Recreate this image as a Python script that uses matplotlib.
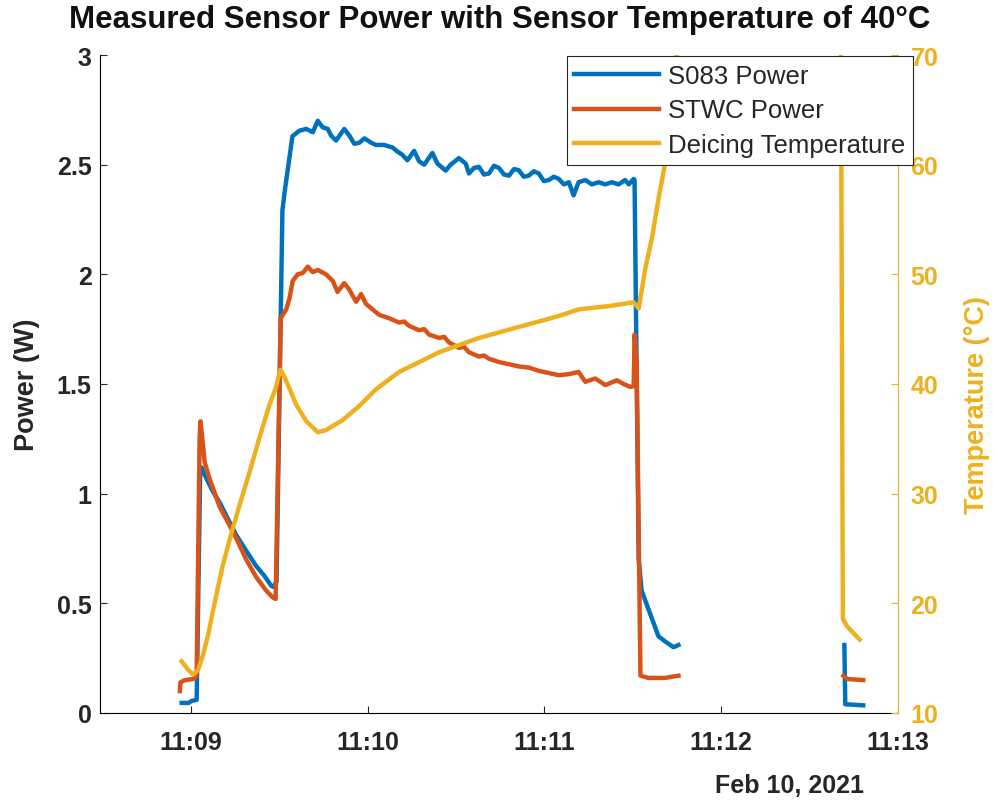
import numpy as np
import matplotlib
matplotlib.use('Agg')
import matplotlib.pyplot as plt
import matplotlib.dates as mdates

plt.rcParams['font.family'] = ['Liberation Sans', 'DejaVu Sans']

# ---- data (time = seconds after 11:09:00, Feb 10 2021) ----
s083_t = [-3.1, -0.7, 0.3, 2.0, 3.2, 3.6, 5.3, 7.5, 9.8, 12.6, 15.5, 18.8, 22.2, 25.0, 27.3, 28.1,
          29.1, 31.1, 31.8, 34.5, 36.9, 39.2, 41.4, 43.1, 44.8, 46.5, 47.6, 49.3, 52.1, 53.8, 55.5,
          57.2, 58.9, 61.2, 62.8, 65.6, 68.5, 70.1, 71.8, 73.5, 75.8, 77.5, 79.2, 82.0, 83.7, 86.5,
          88.2, 91.0, 93.3, 94.4, 96.1, 97.8, 99.5, 101.2, 102.9, 104.6, 106.3, 108.0, 109.7, 111.3,
          113.0, 114.7, 116.4, 118.1, 119.8, 121.5, 123.2, 124.9, 126.6,
          128.3, 129.9, 131.6, 133.9, 136.1, 138.4, 140.6, 142.9, 145.2, 147.4, 148.6, 150.3,
          150.6, 152.0, 153.0, 155.3, 158.7, 160.9, 163.8, 165.5,
          190.0,
          221.8, 222.1, 228.2]
s083_p = [0.046, 0.046, 0.055, 0.06, 1.10, 1.12, 1.07, 1.01, 0.96, 0.885, 0.81, 0.74, 0.67, 0.625, 0.58, 0.575,
          0.60, 2.29, 2.37, 2.63, 2.655, 2.663, 2.648, 2.70, 2.67, 2.663, 2.633, 2.61, 2.663, 2.633, 2.595,
          2.60, 2.62, 2.60, 2.59, 2.59, 2.578, 2.56, 2.545, 2.52, 2.563, 2.515, 2.50, 2.553, 2.505, 2.473,
          2.50, 2.53, 2.505, 2.46, 2.485, 2.49, 2.455, 2.46, 2.495, 2.485, 2.455, 2.45, 2.48, 2.475,
          2.445, 2.45, 2.47, 2.46, 2.425, 2.43, 2.445, 2.435, 2.41,
          2.42, 2.36, 2.42, 2.43, 2.41, 2.42, 2.41, 2.42, 2.41, 2.43, 2.41, 2.435,
          2.43, 0.70, 0.558, 0.474, 0.35, 0.327, 0.30, 0.31,
          np.nan,
          0.31, 0.04, 0.035]

stwc_t = [-3.7, -3.5, -2.0, 0.8, 2.0, 3.0, 3.3, 3.7, 4.7, 6.4, 9.8, 13.2, 15.5, 18.8, 22.2, 25.6, 27.8,
          28.8, 30.5, 32.4, 33.5, 34.6, 36.3, 38.0, 39.7, 41.4, 43.1, 45.9, 48.2, 49.8, 52.1, 53.8,
          56.1, 57.8, 59.5, 61.7, 64.0, 67.3, 70.7, 72.4, 74.1, 77.5, 79.2, 80.9, 84.3, 86.0, 87.6,
          91.0, 92.7, 94.4, 97.8, 99.5, 101.2, 104.6, 108.0, 111.3, 114.7, 118.1, 121.5, 124.9,
          128.3, 131.6, 133.9, 137.3, 140.7,
          144.6, 146.9, 149.1, 150.3, 150.6, 151.3, 152.6, 155.3, 160.9, 165.5,
          190.0,
          221.5, 222.8, 228.2]
stwc_p = [0.10, 0.14, 0.15, 0.155, 0.17, 1.25, 1.33, 1.28, 1.145, 1.067, 0.94, 0.855, 0.795, 0.70, 0.62, 0.558, 0.527,
          0.52, 1.80, 1.84, 1.89, 1.97, 2.0, 2.006, 2.035, 2.01, 2.02, 2.0, 1.97, 1.92, 1.96, 1.93,
          1.875, 1.91, 1.865, 1.84, 1.815, 1.80, 1.78, 1.785, 1.765, 1.745, 1.75, 1.725, 1.71, 1.715, 1.69,
          1.665, 1.67, 1.645, 1.625, 1.63, 1.615, 1.60, 1.59, 1.58, 1.575, 1.56, 1.55, 1.54,
          1.545, 1.555, 1.51, 1.525, 1.495,
          1.517, 1.50, 1.487, 1.49, 1.725, 1.60, 0.17, 0.16, 0.16, 0.17,
          np.nan,
          0.17, 0.155, 0.15]

temp_t = [-3.1, -0.9, 0.8, 2.5, 4.2, 5.9, 7.5, 9.2, 10.9, 13.8, 16.6, 20.0, 23.3, 26.7, 28.8, 30.4,
          31.5, 33.5, 35.8, 39.2, 43.1, 45.9, 51.5, 57.2, 62.8, 70.7, 84.3, 97.8, 111.3, 118.1,
          124.9, 131.6, 141.8, 150.3, 152.0, 154.3, 156.5, 158.8, 161.1, 162.8, 164.9, 165.9,
          190.0,
          220.6, 221.3, 222.7, 227.0]
temp_c = [14.71, 13.95, 13.49, 13.95, 15.32, 17.14, 19.27, 21.4, 23.5, 26.4, 29.0, 32.0, 35.1, 38.1, 39.6, 41.3,
          40.8, 39.6, 38.1, 36.6, 35.6, 35.8, 36.7, 38.0, 39.5, 41.1, 42.9, 44.2, 45.2, 45.7,
          46.2, 46.8, 47.1, 47.45, 46.9, 50.6, 53.3, 57.0, 60.3, 64.2, 70.0, 72.5,
          np.nan,
          72.5, 18.6, 17.9, 16.7]

series_names = ['S083 Power', 'STWC Power', 'Deicing Temperature']
title_text = 'Measured Sensor Power with Sensor Temperature of 40°C'
date_text = 'Feb 10, 2021'

C_BLUE = '#0072BD'
C_ORANGE = '#D95319'
C_YELLOW = '#EDB120'

base = np.datetime64('2021-02-10T11:09:00')


def to_time(secs):
    return base + (np.round(np.asarray(secs) * 1000)).astype('timedelta64[ms]')


fig = plt.figure(figsize=(9.95, 8.04), dpi=100)
ax1 = fig.add_axes([100 / 995, 1 - 714 / 804, (898 - 100) / 995, (714 - 56) / 804])
ax2 = ax1.twinx()

lw = 3.2
l1, = ax1.plot(to_time(s083_t), s083_p, color=C_BLUE, lw=lw, label=series_names[0], solid_joinstyle='round')
l2, = ax1.plot(to_time(stwc_t), stwc_p, color=C_ORANGE, lw=lw, label=series_names[1], solid_joinstyle='round')
l3, = ax2.plot(to_time(temp_t), temp_c, color=C_YELLOW, lw=lw, label=series_names[2], solid_joinstyle='round')

ax1.set_xlim(to_time(-30.8), to_time(240))
ax1.set_ylim(0, 3)
ax2.set_ylim(10, 70)
ax1.set_yticks([0, 0.5, 1, 1.5, 2, 2.5, 3])
ax1.set_yticklabels(['0', '0.5', '1', '1.5', '2', '2.5', '3'])
ax2.set_yticks([10, 20, 30, 40, 50, 60, 70])

ax1.xaxis.set_major_locator(mdates.MinuteLocator())
ax1.xaxis.set_major_formatter(mdates.DateFormatter('%H:%M'))

tick_fs = 18
for ax in (ax1, ax2):
    ax.spines['top'].set_visible(False)
ax1.spines['right'].set_visible(False)
ax2.spines['left'].set_visible(False)
ax2.spines['bottom'].set_visible(False)
ax1.spines['left'].set_linewidth(0.8)
ax1.spines['bottom'].set_linewidth(0.8)
ax2.spines['right'].set_color(C_YELLOW)
ax2.spines['right'].set_linewidth(0.8)

ax1.tick_params(axis='x', direction='in', length=5, width=0.8, pad=12, labelsize=tick_fs, colors='#262626')
ax1.tick_params(axis='y', direction='in', length=5, width=0.8, pad=6, labelsize=tick_fs, colors='#262626')
ax2.tick_params(axis='y', direction='in', length=5, width=0.8, pad=9, labelsize=tick_fs,
                colors=C_YELLOW)
for lab in ax1.get_xticklabels() + ax1.get_yticklabels() + ax2.get_yticklabels():
    lab.set_fontweight('bold')

ax1.set_ylabel('Power (W)', fontsize=19.5, fontweight='bold', color='#262626', labelpad=12)
ax2.set_ylabel('Temperature (°C)', fontsize=19.5, fontweight='bold', color=C_YELLOW, labelpad=12)
ax2.yaxis.set_label_coords(1.083, 0.47)

fig.text(500 / 995, 1 - 20 / 804, title_text, ha='center', va='center', fontsize=22.5,
         fontweight='bold', color='#111111')
fig.text(790 / 995, 1 - 786 / 804, date_text, ha='center', va='center', fontsize=18,
         fontweight='bold', color='#262626')

leg = ax2.legend(handles=[l1, l2, l3], loc='upper right', bbox_to_anchor=(913 / 995, 1 - 57 / 804),
                 bbox_transform=fig.transFigure, borderaxespad=0, fontsize=18.5, frameon=True,
                 fancybox=False, edgecolor='#262626', framealpha=1, handlelength=3.3,
                 handletextpad=0.35, labelspacing=0.42, borderpad=0.3)
leg.get_frame().set_linewidth(0.8)
for t in leg.get_texts():
    t.set_color('#262626')

fig.savefig('out.png', dpi=100)
